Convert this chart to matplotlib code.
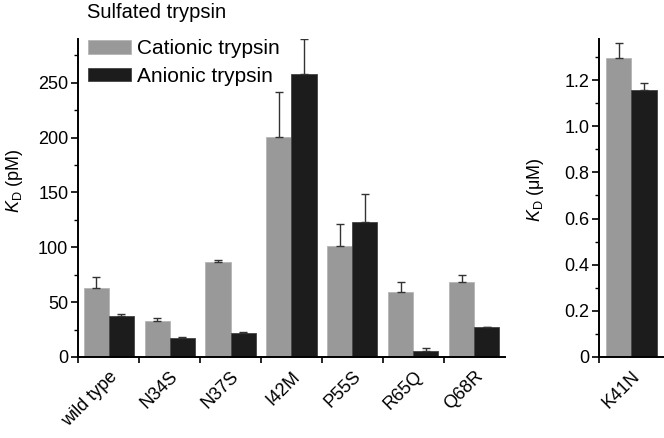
import matplotlib
matplotlib.use("Agg")
import matplotlib.pyplot as plt
import numpy as np

plt.rcParams['font.family'] = ['Liberation Sans', 'DejaVu Sans']
plt.rcParams['mathtext.fontset'] = 'custom'
plt.rcParams['mathtext.rm'] = 'Liberation Sans'
plt.rcParams['mathtext.it'] = 'Liberation Sans:italic'

variants = ['wild type', 'N34S', 'N37S', 'I42M', 'P55S', 'R65Q', 'Q68R']
cationic = [62.5, 32.4, 87, 200.3, 101.2, 59, 68]
cationic_err = [10, 3, 1, 41.7, 20, 9.5, 7]
anionic = [37, 17.3, 21.5, 258.5, 123, 5.8, 27]
anionic_err = [2.4, 0.6, 1.5, 31.2, 26, 2.7, 0.6]

k41n_label = ['K41N']
k41n_cationic = [1.294]
k41n_cationic_err = [0.065]
k41n_anionic = [1.156]
k41n_anionic_err = [0.030]

gray = '#999999'
dark = '#1c1c1c'
errc = '#333333'
tfs = 13

fig = plt.figure(figsize=(6.64, 4.38), dpi=100)
ax = fig.add_axes([0.1175, 0.185, 0.643, 0.726])
ax2 = fig.add_axes([0.902, 0.185, 0.098, 0.726])

w = 0.41
x = np.arange(len(variants))
ax.bar(x - w / 2, cationic, w, color=gray, edgecolor='#b5b5b5', linewidth=0.6,
       label='Cationic trypsin')
ax.bar(x + w / 2, anionic, w, color=dark, edgecolor='#444444', linewidth=0.6,
       label='Anionic trypsin')
ax.errorbar(x - w / 2, cationic, yerr=[np.zeros(7), cationic_err], fmt='none',
            ecolor=errc, elinewidth=1, capsize=2.8, capthick=1)
ax.errorbar(x + w / 2, anionic, yerr=[np.zeros(7), anionic_err], fmt='none',
            ecolor=errc, elinewidth=1, capsize=2.8, capthick=1)

ax.set_xlim(-0.5, 6.5)
ax.set_ylim(0, 290)
ax.set_yticks([0, 50, 100, 150, 200, 250])
ax.set_yticks(np.arange(25, 290, 50), minor=True)
ax.set_xticks(x)
ax.set_xticklabels(variants, rotation=45, ha='right', va='top', rotation_mode='anchor')
ax.set_xticks(np.arange(-0.5, 6, 1), minor=True)
ax.tick_params(axis='x', which='major', length=0, pad=8, labelsize=tfs)
ax.tick_params(axis='x', which='minor', length=4, width=1.2, direction='out')
ax.tick_params(axis='y', which='major', length=5, width=1.2, labelsize=tfs, pad=2)
ax.tick_params(axis='y', which='minor', length=3, width=1)
ax.set_ylabel(r'$K_{\mathrm{D}}$ (pM)', fontsize=13)
ax.yaxis.set_label_coords(-0.125, 0.553)
for s in ['top', 'right']:
    ax.spines[s].set_visible(False)
for s in ['left', 'bottom']:
    ax.spines[s].set_linewidth(1.4)

ax.legend(loc='upper left', bbox_to_anchor=(0.0, 1.032), frameon=False, fontsize=15,
          handlelength=2.05, handleheight=0.62, handletextpad=0.3, labelspacing=0.42,
          borderaxespad=0.3, borderpad=0.2)

fig.text(0.131, 0.972, 'Sulfated trypsin', fontsize=14.5, va='center', ha='left')

w2 = 0.385
ax2.bar([-w2 / 2], k41n_cationic, w2, color=gray, edgecolor='#b5b5b5', linewidth=0.6)
ax2.bar([w2 / 2], k41n_anionic, w2, color=dark, edgecolor='#444444', linewidth=0.6)
ax2.errorbar([-w2 / 2], k41n_cationic, yerr=[[0], k41n_cationic_err], fmt='none',
             ecolor=errc, elinewidth=1, capsize=2.8, capthick=1)
ax2.errorbar([w2 / 2], k41n_anionic, yerr=[[0], k41n_anionic_err], fmt='none',
             ecolor=errc, elinewidth=1, capsize=2.8, capthick=1)
ax2.set_xlim(-0.5, 0.5)
ax2.set_ylim(0, 1.378)
ax2.set_yticks([0, 0.2, 0.4, 0.6, 0.8, 1.0, 1.2])
ax2.set_yticklabels(['0', '0.2', '0.4', '0.6', '0.8', '1.0', '1.2'])
ax2.set_yticks(np.arange(0.1, 1.35, 0.2), minor=True)
ax2.set_xticks([0])
ax2.set_xticklabels(k41n_label, rotation=45, ha='right', va='top', rotation_mode='anchor')
ax2.set_xticks([-0.5], minor=True)
ax2.tick_params(axis='x', which='major', length=0, pad=8, labelsize=tfs)
ax2.tick_params(axis='x', which='minor', length=4, width=1.2)
ax2.tick_params(axis='y', which='major', length=5, width=1.2, labelsize=tfs, pad=2)
ax2.tick_params(axis='y', which='minor', length=3, width=1)
ax2.set_ylabel(r'$K_{\mathrm{D}}$ ($\mathrm{\mu}$M)', fontsize=13)
ax2.yaxis.set_label_coords(-0.815, 0.525)
for s in ['top', 'right']:
    ax2.spines[s].set_visible(False)
for s in ['left', 'bottom']:
    ax2.spines[s].set_linewidth(1.4)

fig.savefig('out.png', dpi=100)
